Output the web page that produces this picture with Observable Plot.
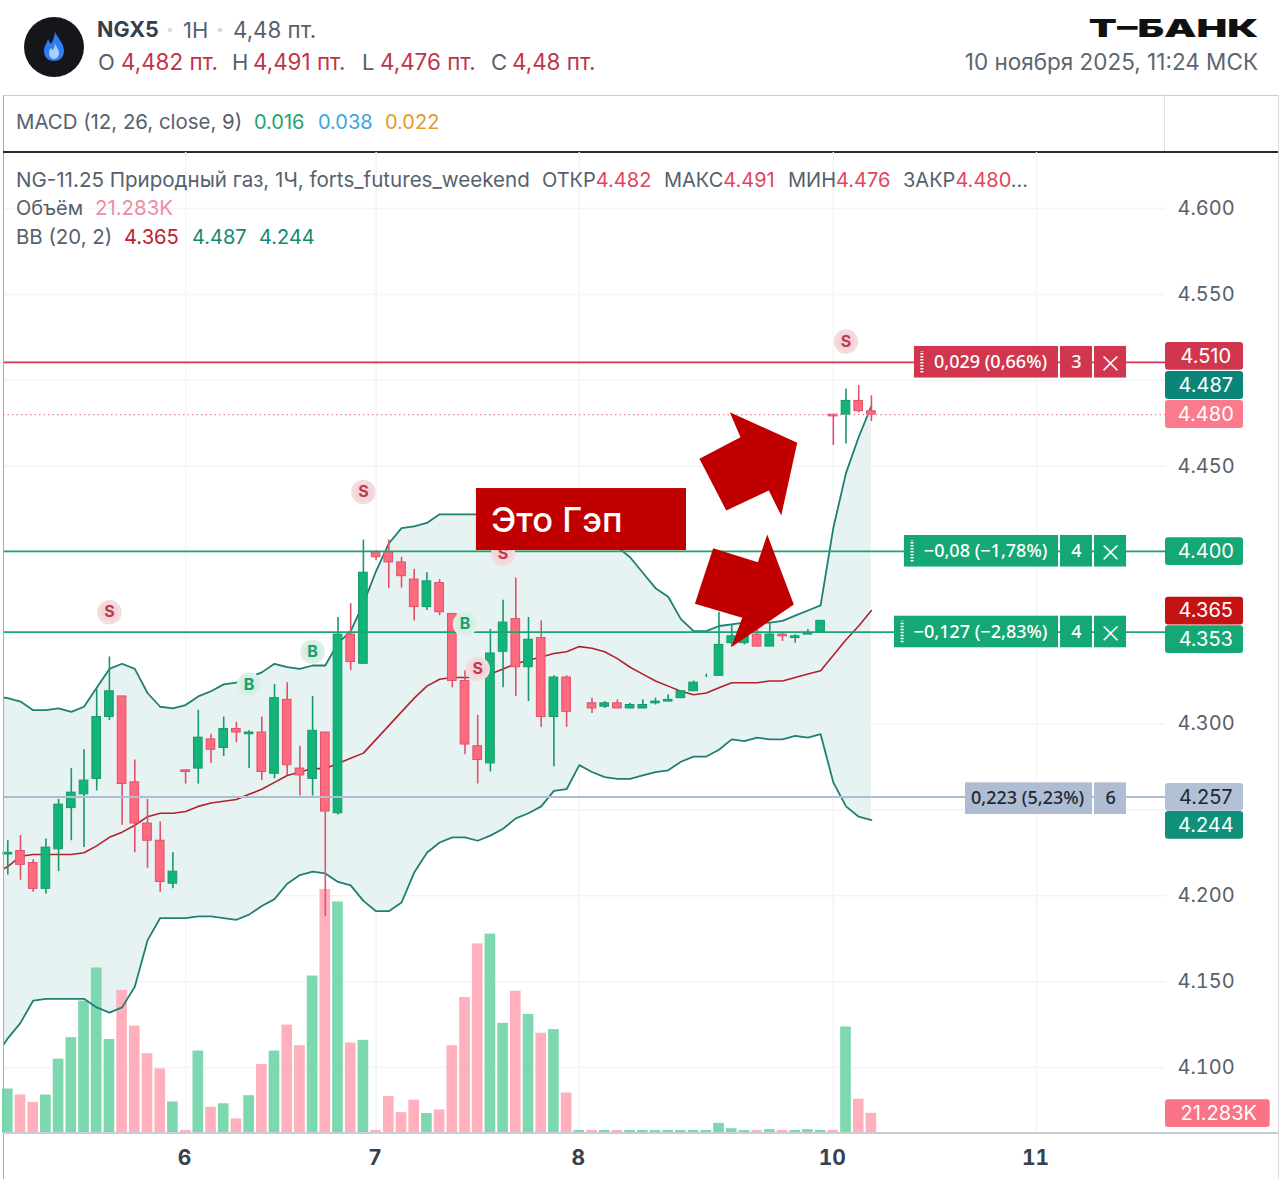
<!DOCTYPE html>
<html><head><meta charset="utf-8">
<script src="https://cdn.jsdelivr.net/npm/d3@7"></script>
<script src="https://cdn.jsdelivr.net/npm/@observablehq/plot@0.6"></script>
<style>
html,body{margin:0;padding:0;background:#fff;width:1280px;height:1179px;overflow:hidden}
body{position:relative;font-family:Inter,"Noto Sans",sans-serif;color:#56616d}
.t{position:absolute;white-space:pre;line-height:1;transform:translateY(-50%)}
.g{color:#56616d}.r{color:#c0344c}
#chart{position:absolute;left:0;top:152px}
#chart svg{display:block;overflow:visible;max-width:none}
.box{position:absolute}
</style></head><body>
<svg class="box" style="left:23px;top:16px" width="62" height="62" viewBox="0 0 62 62">
<circle cx="31" cy="31" r="30" fill="#14161b"/>
<path d="M32 15c1 6 9 11 9 20 0 6-4 10-10 10s-10-4-10-10c0-5 3-8 4-12 1 2 2 4 3 5 2-4 4-8 4-13z" fill="#2f7df0"/>
<path d="M32 27c1 4 4 6 4 10 0 3-2 6-5 6s-5-3-5-6c0-2 1-4 2-5 1 1 1 2 2 2 1-2 2-4 2-7z" fill="#a9d0ff"/>
</svg>
<div class="t" style="left:97px;top:30px;font-size:21.5px;font-weight:700;color:#34404e">NGX5</div>
<div class="t" style="left:166px;top:29px;font-size:14px;color:#d5d9de">•</div>
<div class="t" style="left:183px;top:30px;font-size:22px">1H</div>
<div class="t" style="left:216px;top:29px;font-size:14px;color:#d5d9de">•</div>
<div class="t" style="left:233px;top:30px;font-size:22.3px">4,48 пт.</div>
<div class="t g" style="left:98px;top:62px;font-size:22px">O</div>
<div class="t r" style="left:121px;top:62px;font-size:22.4px">4,482 пт.</div>
<div class="t g" style="left:232px;top:62px;font-size:22px">H</div>
<div class="t r" style="left:253px;top:62px;font-size:22.4px">4,491 пт.</div>
<div class="t g" style="left:362px;top:62px;font-size:22px">L</div>
<div class="t r" style="left:380px;top:62px;font-size:22.4px">4,476 пт.</div>
<div class="t g" style="left:491px;top:62px;font-size:22px">C</div>
<div class="t r" style="left:512px;top:62px;font-size:22.4px">4,48 пт.</div>
<div class="t" style="right:22px;top:28px;font-size:25px;font-weight:900;color:#111;transform:translateY(-50%) scaleX(1.64);transform-origin:right center">Т–БАНК</div>
<div class="t" style="right:22px;top:62px;font-size:22.5px;color:#5b6670">10 ноября 2025, 11:24 МСК</div>

<div class="box" style="left:3px;top:95px;width:1276px;height:56px;border-top:1px solid #c9cdd2;border-left:1px solid #a9adb3;border-right:1px solid #c9cdd2;box-sizing:border-box"></div>
<div class="box" style="left:1164px;top:95px;width:1px;height:57px;background:#dfe2e6"></div>
<div class="box" style="left:3px;top:151px;width:1276px;height:2px;background:#2a2e34"></div>
<div class="t" style="left:16px;top:122px;font-size:20.4px">MACD (12, 26, close, 9)</div>
<div class="t" style="left:254px;top:122px;font-size:20px;color:#25a271">0.016</div>
<div class="t" style="left:318px;top:122px;font-size:20px;color:#3fa4dc">0.038</div>
<div class="t" style="left:385px;top:122px;font-size:20px;color:#e39a2e">0.022</div>

<div id="chart"></div>

<div class="t" style="left:16px;top:180px;font-size:20.55px">NG-11.25 Природный газ, 1Ч, forts_futures_weekend</div>
<div class="t" style="left:542px;top:180px;font-size:20px">ОТКР<span style="color:#e0455c">4.482</span></div>
<div class="t" style="left:664px;top:180px;font-size:20px">МАКС<span style="color:#e0455c">4.491</span></div>
<div class="t" style="left:788px;top:180px;font-size:20px">МИН<span style="color:#e0455c">4.476</span></div>
<div class="t" style="left:903px;top:180px;font-size:20px">ЗАКР<span style="color:#e0455c">4.480</span>...</div>
<div class="t" style="left:16px;top:208px;font-size:20px">Объём</div>
<div class="t" style="left:95px;top:208px;font-size:20.4px;color:#ef8da0">21.283K</div>
<div class="t" style="left:16px;top:237px;font-size:20.4px">BB (20, 2)</div>
<div class="t" style="left:124px;top:237px;font-size:20.2px;color:#c0202c">4.365</div>
<div class="t" style="left:192px;top:237px;font-size:20px;color:#12896f">4.487</div>
<div class="t" style="left:259px;top:237px;font-size:20px;color:#12896f">4.244</div>

<script>
// Candles, indexed by hourly bar
const opens=[4.224,4.226,4.219,4.204,4.227,4.251,4.259,4.268,4.304,4.316,4.266,4.242,4.232,4.207,4.273,4.274,4.291,4.286,4.297,4.294,4.295,4.271,4.314,4.274,4.268,4.295,4.248,4.352,4.335,4.400,4.400,4.394,4.384,4.368,4.382,4.364,4.325,4.287,4.277,4.342,4.361,4.333,4.350,4.304,4.327,4.311,4.312,4.310,4.312,4.309,4.309,4.312,4.313,4.315,4.319,4.328,4.328,4.347,4.347,4.352,4.345,4.352,4.350,4.352,4.353,4.480,4.480,4.488,4.482];
const highs=[4.232,4.235,4.221,4.233,4.256,4.274,4.285,4.320,4.339,4.316,4.279,4.256,4.243,4.225,4.273,4.308,4.294,4.304,4.301,4.296,4.304,4.323,4.324,4.287,4.316,4.295,4.362,4.370,4.407,4.401,4.407,4.397,4.390,4.388,4.384,4.364,4.331,4.305,4.355,4.372,4.385,4.362,4.360,4.328,4.328,4.311,4.315,4.313,4.314,4.312,4.314,4.315,4.317,4.319,4.325,4.329,4.365,4.358,4.358,4.355,4.359,4.353,4.352,4.355,4.360,4.480,4.495,4.497,4.491];
const lows=[4.212,4.209,4.202,4.201,4.214,4.232,4.228,4.261,4.302,4.241,4.225,4.216,4.202,4.204,4.265,4.265,4.277,4.281,4.289,4.274,4.267,4.268,4.270,4.258,4.258,4.188,4.247,4.331,4.335,4.395,4.379,4.379,4.360,4.366,4.363,4.321,4.282,4.265,4.272,4.321,4.316,4.313,4.298,4.275,4.298,4.311,4.306,4.309,4.309,4.309,4.309,4.311,4.313,4.315,4.319,4.327,4.328,4.345,4.346,4.345,4.345,4.348,4.347,4.352,4.353,4.462,4.463,4.481,4.476];
const closes=[4.225,4.218,4.204,4.228,4.253,4.260,4.267,4.304,4.319,4.265,4.242,4.232,4.208,4.214,4.272,4.292,4.285,4.297,4.295,4.295,4.272,4.315,4.276,4.270,4.296,4.249,4.352,4.336,4.388,4.397,4.394,4.386,4.368,4.383,4.365,4.325,4.288,4.279,4.341,4.359,4.333,4.349,4.304,4.327,4.307,4.311,4.309,4.312,4.309,4.311,4.311,4.313,4.314,4.319,4.324,4.328,4.346,4.351,4.351,4.345,4.352,4.351,4.351,4.353,4.360,4.479,4.488,4.482,4.480];
// Volume, thousands
const volumes=[48.5,41.8,33.6,41.8,82,106,147,184,104,159,119,88,71,34,2,91,28,32,15,41,76,91,120,97,175,272,258,100,103,2,40,22,36,21,25,97,151,211,222,122,158,132,111,115,44,2,2,2,2,2,2,2,2,2,2,2,10,4,2,2,3,2,2,3,2,2,118,37,21.283];
// Bollinger (20, 2): first value is the bar before index 0, off the left edge
const bbUpper=[4.316,4.315,4.313,4.308,4.308,4.309,4.307,4.310,4.321,4.332,4.335,4.332,4.318,4.310,4.309,4.311,4.316,4.319,4.323,4.324,4.327,4.330,4.335,4.333,4.332,4.334,4.334,4.347,4.354,4.370,4.389,4.405,4.414,4.415,4.417,4.422,4.422,4.422,4.422,4.421,4.421,4.421,4.420,4.419,4.418,4.415,4.411,4.407,4.408,4.403,4.397,4.388,4.379,4.374,4.361,4.354,4.354,4.357,4.358,4.359,4.359,4.359,4.360,4.363,4.366,4.369,4.414,4.446,4.467,4.485];
const bbMiddle=[4.213,4.217,4.223,4.224,4.224,4.224,4.224,4.225,4.229,4.234,4.237,4.241,4.246,4.248,4.248,4.249,4.252,4.254,4.255,4.256,4.259,4.262,4.266,4.270,4.272,4.274,4.274,4.277,4.280,4.283,4.291,4.299,4.307,4.315,4.322,4.326,4.327,4.327,4.327,4.329,4.332,4.335,4.337,4.339,4.341,4.342,4.345,4.344,4.342,4.338,4.333,4.329,4.325,4.322,4.319,4.317,4.318,4.321,4.324,4.324,4.324,4.325,4.325,4.327,4.329,4.331,4.340,4.349,4.357,4.366];
const bbLower=[4.106,4.117,4.126,4.139,4.140,4.140,4.140,4.140,4.135,4.132,4.135,4.147,4.174,4.187,4.187,4.187,4.188,4.188,4.187,4.186,4.189,4.194,4.198,4.207,4.212,4.214,4.213,4.208,4.206,4.197,4.191,4.191,4.196,4.2135,4.225,4.231,4.234,4.234,4.232,4.235,4.239,4.245,4.248,4.252,4.261,4.262,4.276,4.272,4.269,4.268,4.268,4.270,4.272,4.273,4.278,4.281,4.281,4.285,4.291,4.290,4.292,4.291,4.291,4.293,4.292,4.294,4.266,4.252,4.246,4.244];
// Axis ticks
const priceTicks=[4.6,4.55,4.45,4.3,4.2,4.15,4.1];
const gridPrices=[4.6,4.55,4.5,4.45,4.4,4.35,4.3,4.25,4.2,4.15,4.1];
const dayBars=[14,29,45,65,81];
const dayLabels=["6","7","8","10","11"];
// Level lines
const levels=[{p:4.51,c:"#d0374e"},{p:4.4,c:"#1ca374"},{p:4.353,c:"#1ca374"},{p:4.257,c:"#aebdd2"}];
const lastPrice=4.48;
// Price tags on the right edge: tag centre, label, fill, ink
const tags=[
 {p:4.5139,t:"4.510",c:"#d0374e",i:"#fff"},
 {p:4.4970,t:"4.487",c:"#0b8577",i:"#fff"},
 {p:4.4801,t:"4.480",c:"#fb7b8c",i:"#fff"},
 {p:4.4003,t:"4.400",c:"#15a874",i:"#fff"},
 {p:4.3657,t:"4.365",c:"#c41313",i:"#fff"},
 {p:4.3491,t:"4.353",c:"#15a874",i:"#fff"},
 {p:4.2572,t:"4.257",c:"#b2c1d6",i:"#1f2833"},
 {p:4.2409,t:"4.244",c:"#0f9079",i:"#fff"}];
// Order panels on the level lines
const orders=[
 {p:4.5105,a:71.39,e:82.73,t:"0,029 (0,66%)",tx:77.38,n:"3",nx:84.15,c:"#d0374e",i:"#fff",h:71.97,x:true},
 {p:4.4005,a:70.6,e:82.73,t:"−0,08 (−1,78%)",tx:76.99,n:"4",nx:84.15,c:"#15a874",i:"#fff",h:71.2,x:true},
 {p:4.3535,a:69.82,e:82.73,t:"−0,127 (−2,83%)",tx:76.59,n:"4",nx:84.15,c:"#15a874",i:"#fff",h:70.42,x:true},
 {p:4.2565,a:75.41,e:85.41,t:"0,223 (5,23%)",tx:80.3,n:"6",nx:86.83,c:"#aebdd2",i:"#1f2833",h:null,x:false}];
// Buy and sell signals
const signals=[
 {i:8,p:4.365,s:"S"},{i:28,p:4.435,s:"S"},{i:39,p:4.399,s:"S"},{i:37,p:4.332,s:"S"},{i:66,p:4.5226,s:"S"},
 {i:19,p:4.323,s:"B"},{i:24,p:4.342,s:"B"},{i:36,p:4.358,s:"B"}];
// Annotation shapes, in bars and price
const arrowUpX=[54.46,57.69,56.85,62.16,60.90,59.92,56.57];
const arrowUpP=[4.4543,4.4669,4.4814,4.4636,4.4213,4.4359,4.4242];
const arrowDownX=[55.54,59.06,59.80,61.89,56.96,57.83,54.10];
const arrowDownP=[4.4023,4.3941,4.4102,4.3695,4.3446,4.3618,4.3699];

const RED="#ff6b7e",REDL="#e2506a",GRN="#13b478",GRNL="#159a6b";
const VOLR="#ffb0bc",VOLG="#7dd8b0",BANDL="#1f7f70",MID="#b2202c",FILL="#e7f3f2",GRID="#f3f4f6";
const FONT="Inter, 'Noto Sans', sans-serif", COND="'Noto Sans', sans-serif";
const yMin=4.0616,yMax=4.6326,xMin=-0.3386,xMax=91.157;
const kPerUnit=1.12*1718, volBase=4.0623;
const volY=k=>volBase+k/kPerUnit;
const bars=opens.map((o,i)=>({i,o,h:highs[i],l:lows[i],c:closes[i],v:volumes[i],up:closes[i]>=o}));
const band=bbUpper.map((u,k)=>({i:k-1,u,m:bbMiddle[k],l:bbLower[k]}));
const tagEnd=97.3,tagH=0.0081;
const cnt1=82.89,cnt2=85.41,xb1=85.57,xb2=88.09,panelH=0.0092;

const chart=Plot.plot({
 width:1280,height:1027,marginLeft:3,marginRight:115,marginTop:0,marginBottom:46,
 x:{type:"linear",domain:[xMin,xMax]},
 y:{type:"linear",domain:[yMin,yMax]},
 style:{background:"transparent",fontFamily:FONT,overflow:"visible"},
 marks:[
  Plot.ruleY(gridPrices,{stroke:GRID,strokeWidth:1.5}),
  Plot.ruleX(dayBars,{stroke:GRID,strokeWidth:1.5}),
  Plot.areaY(band,{x:"i",y1:"l",y2:"u",fill:FILL,clip:true}),
  Plot.rect(bars,{x1:d=>d.i-0.42,x2:d=>d.i+0.42,y1:yMin,y2:d=>volY(d.v),fill:d=>d.up?VOLG:VOLR}),
  Plot.line(band,{x:"i",y:"u",stroke:BANDL,strokeWidth:1.8,clip:true}),
  Plot.line(band,{x:"i",y:"l",stroke:BANDL,strokeWidth:1.8,clip:true}),
  Plot.line(band,{x:"i",y:"m",stroke:MID,strokeWidth:1.6,clip:true}),
  Plot.ruleX(bars,{x:"i",y1:"l",y2:"h",stroke:d=>d.up?GRNL:REDL,strokeWidth:1.6}),
  Plot.rect(bars,{x1:d=>d.i-0.34,x2:d=>d.i+0.34,y1:"o",y2:"c",fill:d=>d.up?GRN:RED,stroke:d=>d.up?GRNL:REDL,strokeWidth:1}),
  Plot.ruleY([lastPrice],{stroke:"#f2808f",strokeDasharray:"1.5 3",strokeWidth:1.3}),
  Plot.ruleY(levels,{y:"p",stroke:"c",strokeWidth:1.8,dy:-0.8}),
  Plot.dot(signals,{x:"i",y:"p",r:10.5,fill:d=>d.s==="S"?"#f6d3d7":"#d3eee2",stroke:d=>d.s==="S"?"#f1dde0":"#dcf0e7",strokeWidth:3.5}),
  Plot.text(signals,{x:"i",y:"p",text:"s",fill:d=>d.s==="S"?"#bd3a52":"#1aa06e",fontSize:16,fontWeight:700}),
  // order panels
  Plot.rect(orders,{x1:"a",x2:"e",y1:d=>d.p-panelH,y2:d=>d.p+panelH,fill:"c"}),
  Plot.rect(orders.filter(d=>d.x),{x1:cnt1,x2:cnt2,y1:d=>d.p-panelH,y2:d=>d.p+panelH,fill:"c"}),
  Plot.rect(orders,{x1:xb1,x2:xb2,y1:d=>d.p-panelH,y2:d=>d.p+panelH,fill:"c"}),
  Plot.ruleX(orders.filter(d=>d.x),{x:"h",y1:d=>d.p-0.0062,y2:d=>d.p+0.0062,stroke:"#fff",strokeWidth:3,strokeDasharray:"1.5 1.5"}),
  Plot.text(orders,{x:"tx",y:"p",text:"t",fill:"i",fontSize:18,fontFamily:COND,fontWeight:500}),
  Plot.text(orders,{x:"nx",y:"p",text:"n",fill:"i",fontSize:18,fontFamily:COND,fontWeight:500}),
  Plot.text(orders.filter(d=>d.x),{x:(xb1+xb2)/2,y:"p",text:()=>"×",fill:"#fff",fontSize:34,fontWeight:200,fontFamily:"Inter"}),
  // gap callout and arrows
  Plot.rect([0],{x1:36.9,x2:53.44,y1:4.4009,y2:4.437,fill:"#c00000"}),
  Plot.text(["Это Гэп"],{x:38.05,y:4.4184,text:d=>d,fill:"#fff",fontSize:34.5,fontWeight:500,textAnchor:"start",fontFamily:FONT}),
  Plot.line(arrowUpP,{x:arrowUpX,y:arrowUpP,fill:"#c00000",stroke:"none"}),
  Plot.line(arrowDownP,{x:arrowDownX,y:arrowDownP,fill:"#c00000",stroke:"none"}),
  // right scale
  Plot.axisY({anchor:"right",ticks:priceTicks,tickFormat:d3.format(".3f"),tickSize:0,tickPadding:12,label:null,fontSize:20,fill:"#56616d"}),
  Plot.axisX({anchor:"bottom",ticks:dayBars,tickFormat:d=>dayLabels[dayBars.indexOf(d)],tickSize:0,tickPadding:17,label:null,fontSize:21,fontWeight:700,fill:"#36414f",dx:-1}),
  Plot.rect(tags,{x1:xMax,x2:tagEnd,y1:d=>d.p-tagH,y2:d=>d.p+tagH,fill:"c",rx:3}),
  Plot.text(tags,{x:94.33,y:"p",text:"t",fill:"i",fontSize:20}),
  Plot.rect([21.283],{x1:xMax,x2:99.4,y1:4.0732-tagH,y2:4.0732+tagH,fill:"#fb7386",rx:3}),
  Plot.text(["21.283K"],{x:95.35,y:4.0732,text:d=>d,fill:"#fff",fontSize:20})
 ]
});
document.getElementById("chart").appendChild(chart);
</script>
<div class="box" style="left:3px;top:153px;width:1px;height:1026px;background:#a9adb3"></div>
<div class="box" style="left:1278px;top:95px;width:1px;height:1084px;background:#d6d9dd"></div>
<div class="box" style="left:1164px;top:153px;width:1px;height:1026px;background:#dfe2e6;z-index:-1"></div>
<div class="box" style="left:3px;top:1132px;width:1276px;height:1.5px;background:#c9ced4"></div>
</body></html>
